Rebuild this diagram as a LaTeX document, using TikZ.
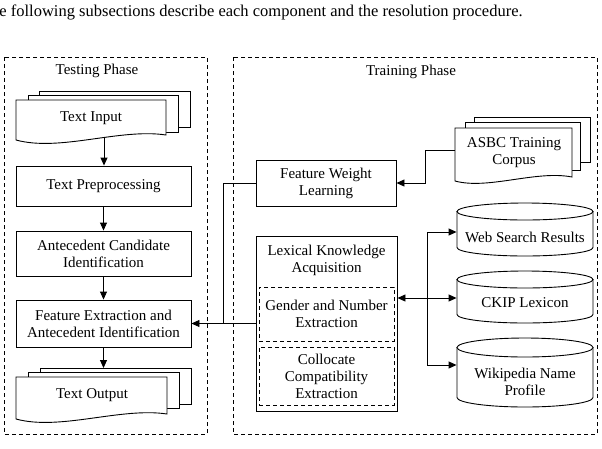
\documentclass[tikz,border=0pt]{standalone}
\usepackage{fontspec}
\setmainfont{Liberation Serif}
\usetikzlibrary{arrows.meta,calc}
\begin{document}
\begin{tikzpicture}[x=1pt,y=-1pt, line width=0.9pt,
  txt/.style={align=center, inner sep=0pt, font=\fontsize{15}{17}\selectfont},
  box/.style={txt, draw, fill=white},
  dbox/.style={txt, draw, dash pattern=on 4pt off 3pt},
  phase/.style={draw, dash pattern=on 4pt off 3pt},
  arr/.style={-{Triangle[length=8pt,width=7pt]}},
  shp/.style={draw, fill=white}
]
\useasboundingbox (0,0) rectangle (602,448);

% top sentence
\node[anchor=west, inner sep=0pt, font=\fontsize{16.5}{19}\selectfont] (sent) at (-1,12) {e following subsections describe each component and the resolution procedure.};

% phase frames
\draw[phase] (4,57) rectangle (207,434);
\draw[phase] (233,57) rectangle (597,434);
\node[txt] (tpl) at (97,71) {Testing Phase};
\node[txt] (trl) at (411,72) {Training Phase};

% Text Input stack
\path[shp] (39,91) rectangle (190,127);
\path[shp] (28,95) rectangle (178,132);
\path[shp] (16,100) -- (166,100) -- (166,135) .. controls (120,128) and (60,152) .. (16,140) -- cycle;
\node[txt, minimum width=150pt, minimum height=36pt] (ti) at (91,118) {Text Input};
\coordinate (tib) at (104,137.3);

% left boxes
\node[box, minimum width=175pt, minimum height=40pt] (tp) at (103.5,186) {Text Preprocessing};
\node[box, minimum width=175pt, minimum height=45pt] (ac) at (103.5,253.5) {Antecedent Candidate\\Identification};
\node[box, minimum width=175pt, minimum height=47pt] (fe) at (103.5,323.5) {Feature Extraction and\\Antecedent Identification};

% Text Output stack
\path[shp] (40,368) rectangle (191,404);
\path[shp] (28,372) rectangle (179,408);
\path[shp] (16,377) -- (167,377) -- (167,414) .. controls (121,407) and (60,431) .. (16,419) -- cycle;
\node[txt, minimum width=150pt, minimum height=36pt] (to) at (92,395) {Text Output};
\coordinate (tot) at (103.5,368);

% left arrows
\draw[arr] (tib) -- (tib |- tp.north);
\draw[arr] (tp.south) -- (ac.north);
\draw[arr] (ac.south) -- (fe.north);
\draw[arr] (fe.south) -- (tot);

% training boxes
\node[box, minimum width=140pt, minimum height=46pt] (fwl) at (326,183) {Feature Weight\\Learning};
\node[box, minimum width=141pt, minimum height=175pt] (lka) at (326.5,323.5) {};
\node[txt] (lkat) at (326.5,260.5) {Lexical Knowledge\\Acquisition};
\node[dbox, minimum width=135pt, minimum height=54pt] (gn) at (326.5,314) {Gender and Number\\Extraction};
\node[dbox, minimum width=135pt, minimum height=58pt] (cc) at (326.5,376) {Collocate\\Compatibility\\Extraction};

% ASBC stack
\path[shp] (474,117) rectangle (590,162);
\path[shp] (465,122) rectangle (580,170);
\path[shp] (455,128) -- (572,128) -- (572,177) .. controls (536,170) and (488,190) .. (455,181) -- cycle;
\node[txt, minimum width=117pt, minimum height=40pt] (asbc) at (514,152.5) {ASBC Training\\Corpus};

% cylinders
\path[shp] (457,211.5) -- (457,247.5) .. controls (457,252.2) and (487.5,256) .. (525,256) .. controls (562.5,256) and (593,252.2) .. (593,247.5) -- (593,211.5) -- cycle;
\draw[fill=white] (525,211.5) ellipse [x radius=68pt, y radius=8.5pt];
\node[txt, minimum width=136pt, minimum height=20pt] (web) at (525,237) {Web Search Results};

\path[shp] (457,279.5) -- (457,314.5) .. controls (457,319.2) and (487.5,323) .. (525,323) .. controls (562.5,323) and (593,319.2) .. (593,314.5) -- (593,279.5) -- cycle;
\draw[fill=white] (525,279.5) ellipse [x radius=68pt, y radius=8.5pt];
\node[txt, minimum width=136pt, minimum height=20pt] (ckip) at (525,303) {CKIP Lexicon};

\path[shp] (457,347.5) -- (457,397.5) .. controls (457,402.7) and (487.5,407) .. (525,407) .. controls (562.5,407) and (593,402.7) .. (593,397.5) -- (593,347.5) -- cycle;
\draw[fill=white] (525,347.5) ellipse [x radius=68pt, y radius=9.5pt];
\node[txt, minimum width=136pt, minimum height=36pt] (wiki) at (525,381.5) {Wikipedia Name\\Profile};

% connectors training
\coordinate (asw) at (455,150);
\coordinate (ak) at (425,150);
\draw[arr] (asw) -- (ak) |- (fwl.east);

\coordinate (fj) at (223,323.5);
\draw (fwl.west) -| (fj);
\draw[arr] (lka.west) -- (fe.east);

\coordinate (rw) at (427,232);
\coordinate (rc) at (427,298);
\coordinate (rk) at (427,365);
\draw (rw) -- (rk);
\draw[arr] (rw) -- (rw -| web.west);
\draw[arr] (rc) -- (rc -| ckip.west);
\draw[arr] (rk) -- (rk -| wiki.west);
\draw[arr] (rc) -- (rc -| lka.east);
\end{tikzpicture}
\end{document}
